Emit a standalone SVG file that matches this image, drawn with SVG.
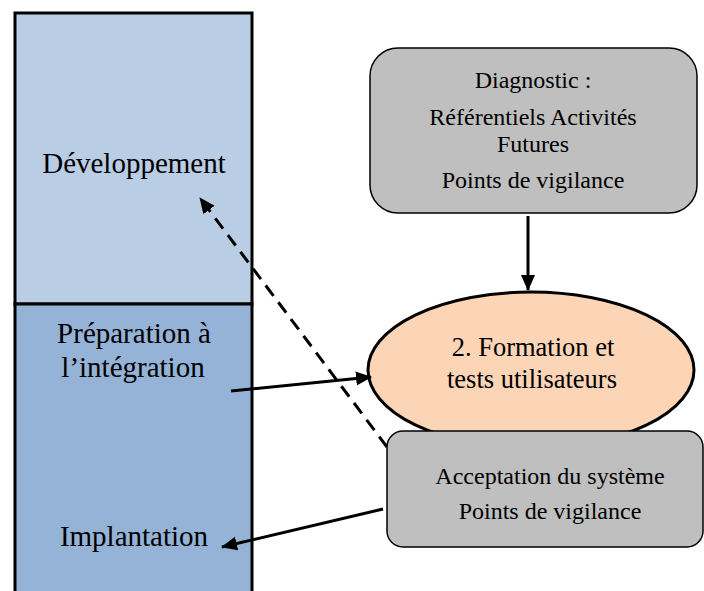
<svg xmlns="http://www.w3.org/2000/svg" width="704" height="591" viewBox="0 0 704 591">
<style>
text{font-family:"Liberation Serif","Times New Roman",serif;fill:#000;text-anchor:middle}
.big{font-size:29px}
.mid{font-size:24px}
.ell{font-size:26.5px}
.conn{stroke:#000;stroke-width:3;fill:none}
.dash{stroke-dasharray:13 8}
</style>
<defs>
<marker id="ah" markerUnits="userSpaceOnUse" markerWidth="16" markerHeight="16" viewBox="0 0 16 16" refX="15" refY="8" orient="auto">
<path d="M0,1 L16,8 L0,15 Z" fill="#000"/>
</marker>
</defs>
<rect width="704" height="591" fill="#fff"/>
<g id="col-dev">
<rect x="15" y="13" width="237" height="291" fill="#B9CDE5" stroke="#000" stroke-width="3"/>
<text class="big" x="134" y="173">Développement</text>
</g>
<g id="col-impl">
<path d="M15,593 L15,304 L252,304 L252,593" fill="#95B3D7" stroke="#000" stroke-width="3"/>
<text class="big" x="134" y="343">Préparation à</text>
<text class="big" x="133" y="377">l’intégration</text>
<text class="big" x="134" y="546">Implantation</text>
</g>
<g id="diagnostic">
<rect x="370" y="48" width="327" height="165" rx="28" ry="28" fill="#BFBFBF" stroke="#000" stroke-width="1.5"/>
<text class="mid" x="533" y="88">Diagnostic :</text>
<text class="mid" x="533" y="125">Référentiels Activités</text>
<text class="mid" x="533" y="152">Futures</text>
<text class="mid" x="533" y="188">Points de vigilance</text>
</g>
<g id="formation">
<ellipse cx="531" cy="370" rx="163" ry="78" fill="#FBD5B5" stroke="#000" stroke-width="3"/>
<text class="ell" x="533" y="356">2. Formation et</text>
<text class="ell" x="532" y="388">tests utilisateurs</text>
</g>
<g id="acceptation">
<rect x="387" y="431" width="316" height="116" rx="16" ry="16" fill="#BFBFBF" stroke="#000" stroke-width="1.5"/>
<text class="mid" x="550" y="484">Acceptation du système</text>
<text class="mid" x="550" y="519">Points de vigilance</text>
</g>
<g id="connectors">
<line class="conn" x1="528" y1="216" x2="528" y2="290" marker-end="url(#ah)"/>
<line class="conn" x1="231" y1="391" x2="371" y2="377" marker-end="url(#ah)"/>
<line class="conn dash" x1="387" y1="447" x2="200" y2="198" marker-end="url(#ah)"/>
<line class="conn" x1="383" y1="509" x2="222" y2="547" marker-end="url(#ah)"/>
</g>
</svg>
